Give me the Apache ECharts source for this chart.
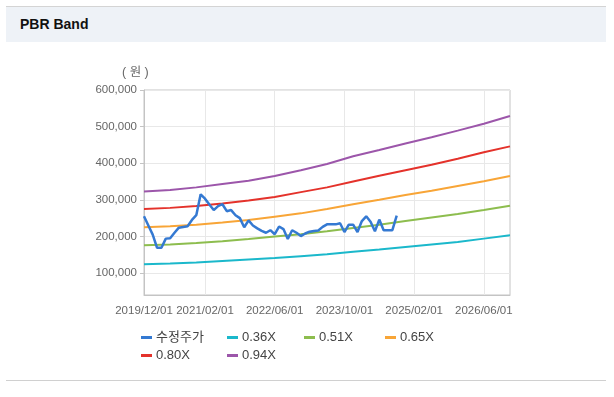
<!DOCTYPE html>
<html>
<head>
<meta charset="utf-8">
<script src="https://cdn.jsdelivr.net/npm/echarts@6/dist/echarts.min.js"></script>
<style>
    body { margin: 0; background: #fff; }
    .header {
        position: absolute;
        left: 6px;
        top: 6px;
        width: 600px;
        height: 35px;
        background: #eef2f7;
        border-top: 1px solid #d4d4d4;
        font-family: 'Liberation Sans', sans-serif;
        font-weight: bold;
        font-size: 14px;
        line-height: 35px;
        color: #111;
        text-indent: 14px;
    }
    .bottomline {
        position: absolute;
        left: 6px;
        top: 380px;
        width: 600px;
        height: 1px;
        background: #d0d0d0;
    }
    #chart { position: absolute; left: 0; top: 0; width: 614px; height: 397px; }
</style>
</head>
<body>
<div id="chart"></div>
<div class="header">PBR Band</div>
<div class="bottomline"></div>
<script>
    // monthly categories 2019/12 .. 2026/12
    const months = []
    for (let y = 2019, m = 12; y < 2027; ) {
        months.push(y + '/' + String(m).padStart(2, '0') + '/01')
        m++
        if (m > 12) { m = 1; y++ }
        if (y === 2027) break
    }
    const tickLabels = ['2019/12/01', '2021/02/01', '2022/06/01', '2023/10/01', '2025/02/01', '2026/06/01']

    // 수정주가, monthly from 2019/12
    const price = [255000, 230000, 205000, 169000, 169000, 194000, 195000, 210000, 224000, 226000,
        228000, 245000, 258000, 315000, 303000, 287000, 272000, 283000, 288000, 269000,
        272000, 258000, 250000, 225000, 244000, 230000, 222000, 215000, 210000, 217000,
        206000, 227000, 220000, 193000, 217000, 210000, 201000, 208000, 213000, 215000,
        216000, 226000, 233000, 233000, 233000, 236000, 212000, 232000, 232000, 212000,
        242000, 255000, 240000, 214000, 246000, 217000, 217000, 217000, 257000]

    const bandDates = ['2019/12/01', '2020/06/01', '2020/12/01', '2021/06/01', '2021/12/01', '2022/06/01',
        '2022/12/01', '2023/06/01', '2023/12/01', '2024/06/01', '2024/12/01', '2025/06/01',
        '2025/12/01', '2026/06/01', '2026/12/01']
    const band036 = [124000, 126000, 129000, 133000, 137000, 141000, 146000, 151000, 158000, 164000, 171000, 178000, 185000, 194000, 203000]
    const band051 = [176000, 178000, 182000, 187000, 193000, 200000, 206000, 214000, 223000, 232000, 242000, 252000, 261000, 272000, 284000]
    const band065 = [225000, 228000, 232000, 238000, 245000, 254000, 263000, 275000, 288000, 300000, 313000, 325000, 338000, 351000, 365000]
    const band080 = [275000, 278000, 283000, 290000, 298000, 308000, 321000, 334000, 350000, 366000, 381000, 396000, 412000, 430000, 446000]
    const band094 = [323000, 327000, 334000, 343000, 352000, 365000, 381000, 398000, 419000, 436000, 454000, 471000, 489000, 508000, 529000]

    const names = ['수정주가', '0.36X', '0.51X', '0.65X', '0.80X', '0.94X']
    const colors = ['#3479d2', '#1bb8cb', '#8dbd4e', '#f8a537', '#e4322b', '#9c56aa']

    function bandData(values) {
        return bandDates.map((d, i) => [d, values[i]])
    }

    function showTick(index, value) {
        return tickLabels.indexOf(value) !== -1
    }

    const chart = echarts.init(document.getElementById('chart'))

    const legendPos = [
        { left: 141, top: 331 },
        { left: 227, top: 331 },
        { left: 304, top: 331 },
        { left: 385, top: 331 },
        { left: 141, top: 349 },
        { left: 227, top: 349 }
    ]

    const option = {
        animation: false,
        color: colors,
        textStyle: { fontFamily: "'Liberation Sans', 'Noto Sans CJK KR', sans-serif" },
        legend: names.map((n, i) => ({
            data: [n],
            left: legendPos[i].left,
            top: legendPos[i].top,
            icon: 'rect',
            itemWidth: 11,
            itemHeight: 3,
            itemGap: 5,
            padding: 0,
            textStyle: {
                fontSize: 13,
                color: '#444',
                padding: [0, 0, 0, -1],
                fontFamily: "'Liberation Sans', 'Noto Sans CJK KR', sans-serif"
            }
        })),
        graphic: [{
            type: 'text',
            left: 122,
            top: 66,
            style: {
                text: '( 원 )',
                fontSize: 12.5,
                fill: '#666',
                fontFamily: "'Liberation Sans', 'Noto Sans CJK KR', sans-serif"
            }
        }],
        grid: {
            left: 144,
            right: 104,
            top: 90,
            bottom: 102,
            show: true,
            borderColor: '#c4c4c4',
            borderWidth: 1
        },
        xAxis: {
            type: 'category',
            boundaryGap: false,
            data: months,
            axisLine: { lineStyle: { color: '#c4c4c4' } },
            axisTick: { show: false },
            axisLabel: {
                interval: showTick,
                color: '#666',
                fontSize: 11.5,
                margin: 10
            },
            splitLine: {
                show: true,
                interval: showTick,
                lineStyle: { color: '#e8e8e8' }
            }
        },
        yAxis: {
            type: 'value',
            min: 40000,
            max: 600000,
            splitNumber: 5,
            axisLine: { show: true, lineStyle: { color: '#c4c4c4' } },
            axisTick: { show: true, length: 4, lineStyle: { color: '#c4c4c4' } },
            axisLabel: {
                color: '#666',
                fontSize: 11.5,
                margin: 7,
                showMinLabel: false,
                formatter: function (v) {
                    if (v % 100000 !== 0) return ''
                    return v.toLocaleString('en-US')
                }
            },
            splitLine: { lineStyle: { color: '#e8e8e8' } }
        },
        series: [
            { name: '수정주가', type: 'line', data: price, symbol: 'none', lineStyle: { width: 2.5 }, z: 10 },
            { name: '0.36X', type: 'line', data: bandData(band036), symbol: 'none', lineStyle: { width: 2 } },
            { name: '0.51X', type: 'line', data: bandData(band051), symbol: 'none', lineStyle: { width: 2 } },
            { name: '0.65X', type: 'line', data: bandData(band065), symbol: 'none', lineStyle: { width: 2 } },
            { name: '0.80X', type: 'line', data: bandData(band080), symbol: 'none', lineStyle: { width: 2 } },
            { name: '0.94X', type: 'line', data: bandData(band094), symbol: 'none', lineStyle: { width: 2 } }
        ]
    }
    chart.setOption(option)
</script>
</body>
</html>
